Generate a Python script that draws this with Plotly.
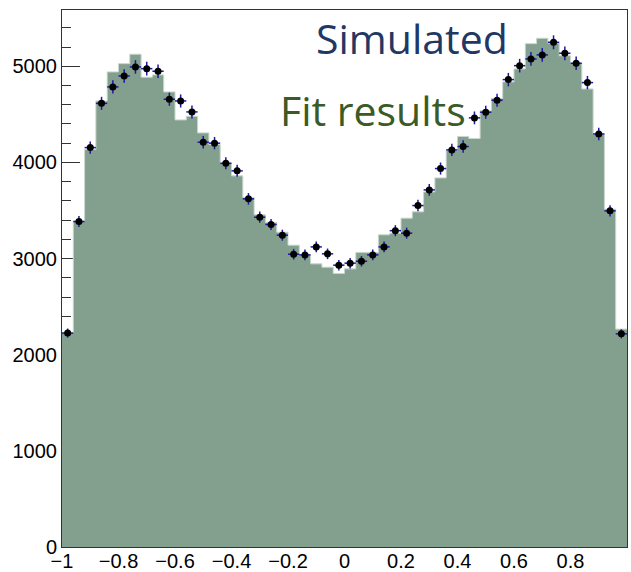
import numpy as np
import plotly.graph_objects as go

# 50 bins from -1 to 1
bin_edges = [round(-1 + 0.04 * i, 2) for i in range(51)]
bin_centers = [round(-0.98 + 0.04 * i, 2) for i in range(50)]

fit_counts = [2230, 3390, 4133, 4639, 4941, 5027, 5125, 4886, 4910, 4733,
              4442, 4480, 4307, 4185, 3990, 3860, 3634, 3455, 3375, 3274,
              3139, 3038, 2945, 2910, 2845, 2893, 3064, 3062, 3247, 3264,
              3420, 3486, 3693, 3839, 4123, 4270, 4248, 4536, 4664, 4837,
              4972, 5235, 5291, 5239, 5109, 5031, 4764, 4293, 3513, 2266]

sim_counts = [2225, 3385, 4154, 4614, 4785, 4899, 4993, 4975, 4948, 4657,
              4639, 4525, 4210, 4200, 3991, 3912, 3621, 3430, 3354, 3243,
              3045, 3038, 3121, 3049, 2931, 2952, 2972, 3038, 3121, 3290,
              3264, 3551, 3714, 3936, 4130, 4165, 4463, 4522, 4647, 4861,
              5006, 5076, 5118, 5249, 5135, 5031, 4830, 4296, 3496, 2217]

x_ticks = [-1, -0.8, -0.6, -0.4, -0.2, 0, 0.2, 0.4, 0.6, 0.8, 1]
x_tick_text = ["\u22121", "\u22120.8", "\u22120.6", "\u22120.4", "\u22120.2", "0",
               "0.2", "0.4", "0.6", "0.8", "1"]
y_ticks = [0, 1000, 2000, 3000, 4000, 5000]

fig = go.Figure()

# step histogram (fit results)
fig.add_trace(go.Scatter(
    x=bin_edges, y=fit_counts + [fit_counts[-1]],
    mode="lines", line=dict(shape="hv", color="#c9d6ce", width=1),
    fill="tozeroy", fillcolor="#839f8e", hoverinfo="skip", showlegend=False,
))

# simulated data points with error bars
fig.add_trace(go.Scatter(
    x=bin_centers, y=sim_counts, mode="markers",
    marker=dict(color="black", size=7, symbol="circle"),
    error_y=dict(type="data", array=list(np.sqrt(sim_counts)), color="#1a1aa8",
                 thickness=1.5, width=0),
    error_x=dict(type="constant", value=0.02, color="#1a1aa8", thickness=1.5, width=0),
    showlegend=False,
))

axis_font = dict(family="Liberation Sans, Arial, sans-serif", size=20, color="black")

fig.update_layout(
    width=631, height=572,
    margin=dict(l=62, r=4, t=10, b=25),
    paper_bgcolor="white", plot_bgcolor="white",
    xaxis=dict(range=[-1, 1], tickvals=x_ticks, ticktext=x_tick_text,
               ticks="", showgrid=False, zeroline=False, automargin=False,
               ticklabelstandoff=-4,
               showline=True, linecolor="#333333", linewidth=1, mirror=True,
               tickfont=axis_font, layer="below traces"),
    yaxis=dict(range=[0, 5585], tickvals=y_ticks, ticks="inside", ticklen=18,
               tickcolor="#333333", showgrid=False, zeroline=False, automargin=False,
               showline=True, linecolor="#333333", linewidth=1, mirror=True,
               tickfont=axis_font, layer="below traces",
               minor=dict(dtick=200, ticks="inside", ticklen=9, tickcolor="#333333")),
    annotations=[
        dict(text="Simulated", x=0.24, y=5290, xref="x", yref="y",
             showarrow=False, font=dict(family="Open Sans", size=41, color="#1f3864")),
        dict(text="Fit results", x=0.1, y=4540, xref="x", yref="y",
             showarrow=False, font=dict(family="Open Sans", size=41, color="#3a5a26")),
    ],
)

fig.write_html("out.html")
